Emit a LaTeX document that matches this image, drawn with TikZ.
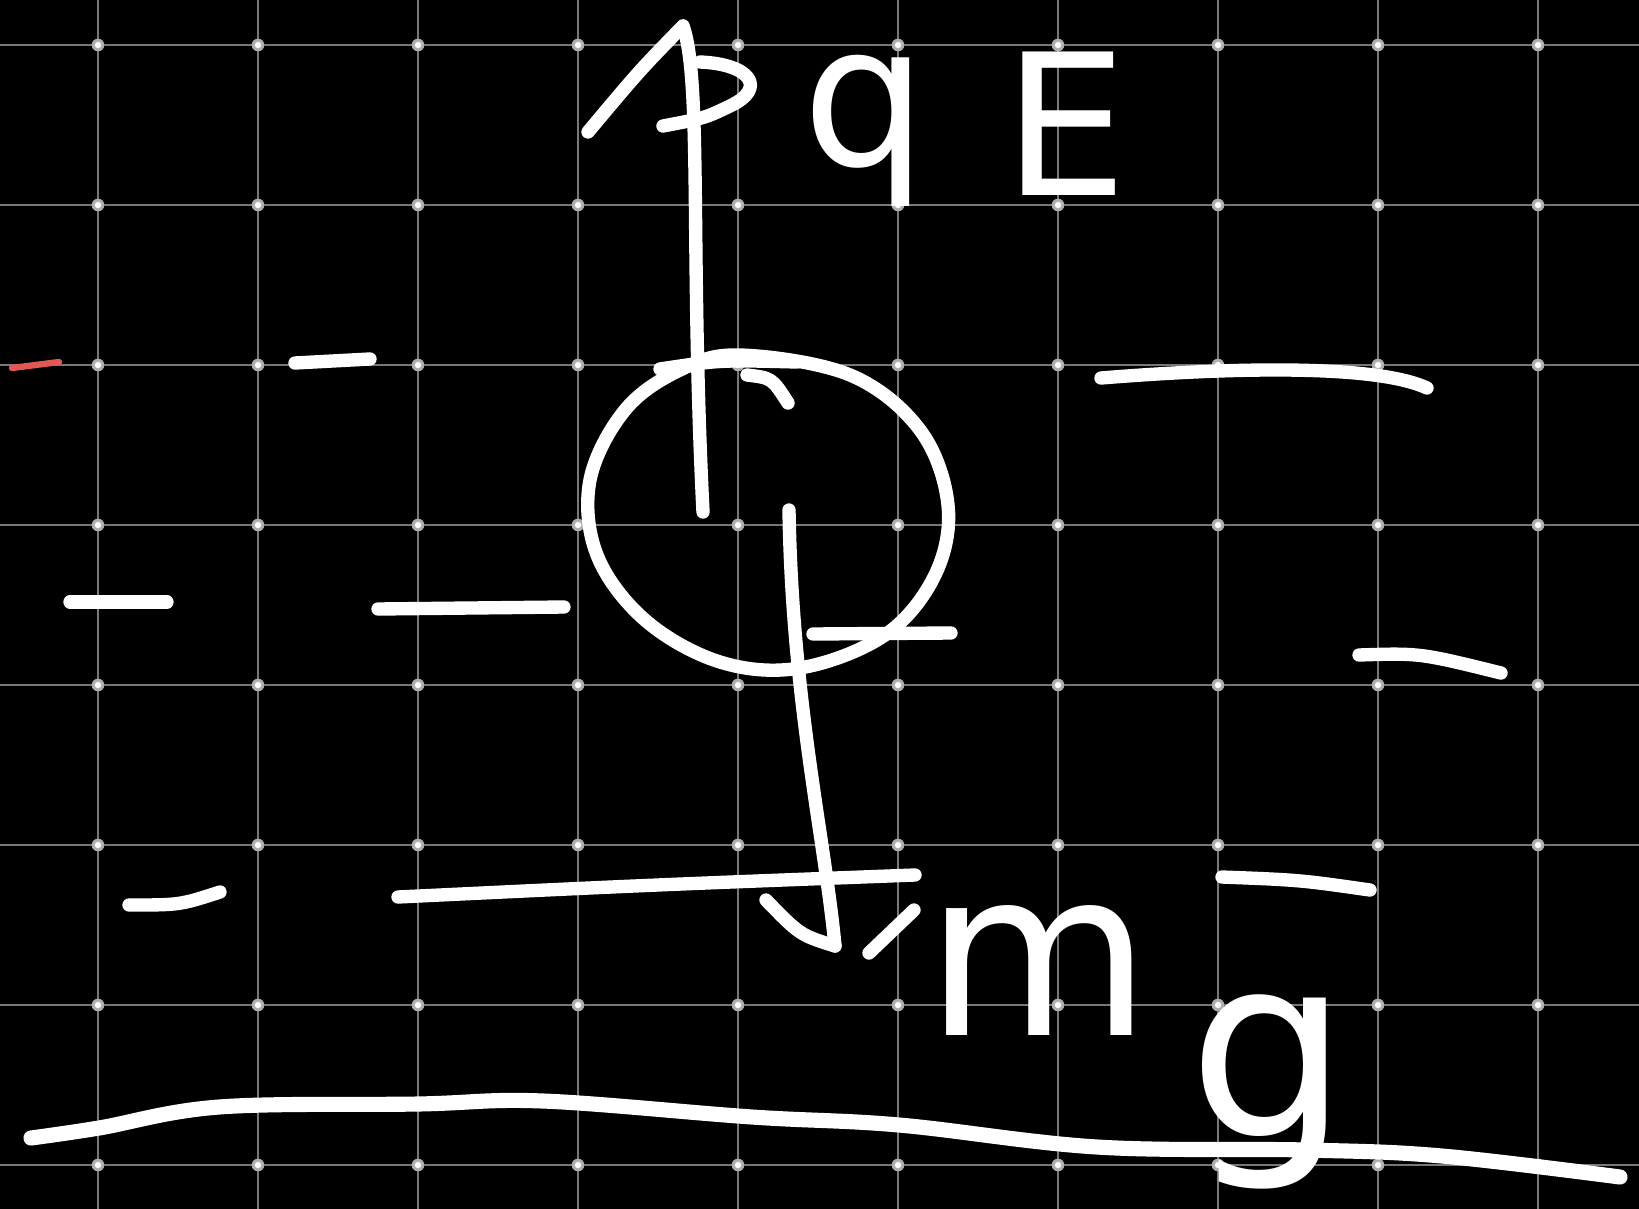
\documentclass[tikz,border=0pt]{standalone}
\usepackage{fontspec}
\newfontfamily\handfont{DejaVu Sans}
\definecolor{gridgray}{RGB}{120,120,120}
\definecolor{dotgray}{RGB}{175,175,175}
\definecolor{penred}{RGB}{226,88,84}

\begin{document}
\begin{tikzpicture}[x=0.01cm,y=-0.01cm,
  ink/.style={white,line width=3.8pt,line cap=round,line join=round},
  gridline/.style={gridgray,line width=0.8pt},
  handtext/.style={white,inner sep=0pt,anchor=base west}]
\fill[black] (0,0) rectangle (1639,1209);
\useasboundingbox (0,0) rectangle (1639,1209);
\foreach \gx in {98,258,...,1538} \draw[gridline] (\gx,0) -- (\gx,1209);
\foreach \gy in {45,205,...,1165} \draw[gridline] (0,\gy) -- (1639,\gy);
\foreach \gx in {98,258,...,1538}
  \foreach \gy in {45,205,...,1165} {
    \fill[dotgray] (\gx,\gy) circle[radius=1.8pt];
    \fill[white] (\gx,\gy) circle[radius=0.9pt];
  }
\draw[penred,line width=1.8pt,line cap=round] (12,368) -- (59,362);
\draw[ink] (295,363) -- (370,359);
\draw[ink] (70,602) -- (167,602);
\draw[ink] (378,609) -- (564,607);
\draw[ink] (129,905) .. controls (180,905) .. (220,892);
\draw[ink] (398,897) .. controls (650,885) .. (915,875);
\draw[ink] (1101,378) .. controls (1250,366) and (1380,366) .. (1427,388);
\draw[ink] (1359,655) .. controls (1420,653) .. (1501,673);
\draw[ink] (1222,877) .. controls (1300,880) .. (1370,890);
\draw[ink] plot[smooth cycle,tension=0.6] coordinates {(740,355) (850,375) (920,430) (948,505) (935,575) (885,635) (800,668) (720,662) (645,620) (597,555) (590,480) (625,410) (680,370)};
\coordinate (ball) at (767,515);
\draw[ink] (660,369) .. controls (720,360) .. (797,362);
\draw[ink] (747,375) .. controls (772,378) .. (788,403);
\draw[ink] (813,634) -- (951,633);
\coordinate (upfoot) at (703,512);
\coordinate (uptip) at (683,26);
\draw[ink] (upfoot) .. controls (690,250) and (702,80) .. (uptip);
\draw[ink] (uptip) .. controls (640,70) .. (588,132);
\draw[ink] (700,62) .. controls (750,64) and (768,88) .. (730,106) .. controls (705,118) .. (663,126);
\coordinate (downtop) at (789,510);
\coordinate (downtip) at (835,946);
\draw[ink] (downtop) .. controls (792,700) and (825,840) .. (downtip);
\draw[ink] (766,900) .. controls (800,935) .. (downtip);
\draw[ink] (869,953) -- (914,910);
\draw[ink,line width=4.3pt] plot[smooth,tension=0.6] coordinates {(31,1138) (99,1128) (219,1107) (418,1104) (543,1101) (752,1117) (899,1125) (1097,1147) (1306,1150) (1442,1156) (1620,1177)};
\node[handtext,font=\handfont\fontsize{56}{60}\selectfont] (qE) at (802,195) {\raisebox{8.5pt}{q}\hspace{21.6pt}E};
\node[handtext,font=\handfont\fontsize{66}{70}\selectfont] (mg) at (925,1035) {m\hspace{10.5pt}\raisebox{-29pt}{\fontsize{72}{76}\selectfont g}};
\end{tikzpicture}
\end{document}
